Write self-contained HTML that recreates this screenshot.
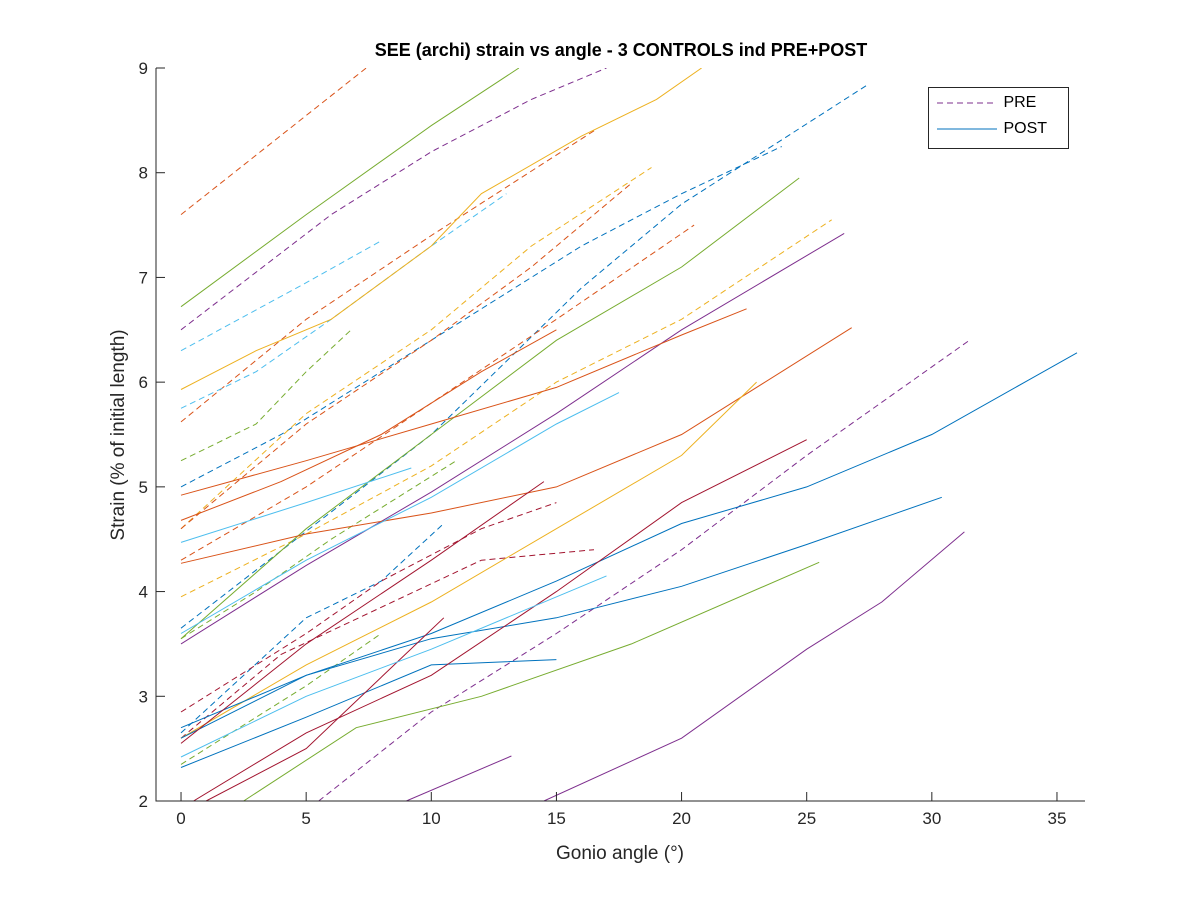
<!DOCTYPE html>
<html><head><meta charset="utf-8"><style>
body{margin:0;background:#fff;width:1200px;height:900px;overflow:hidden;font-family:"Liberation Sans",sans-serif}
</style></head><body>
<svg id="chart" width="1200" height="900" xmlns="http://www.w3.org/2000/svg">
<rect width="1200" height="900" fill="#fff"/>
<defs><clipPath id="clip"><rect x="156" y="68" width="929" height="733"/></clipPath></defs>
<g id="plot" clip-path="url(#clip)"></g>
<g id="axes"></g>
</svg>
<script>
const xTicks=[0,5,10,15,20,25,30,35];
const yTicks=[2,3,4,5,6,7,8,9];
const title="SEE (archi) strain vs angle - 3 CONTROLS ind PRE+POST";
const B='#0072BD',O='#D95319',Y='#EDB120',P='#7E2F8E',G='#77AC30',C='#4DBEEE',R='#A2142F';
// PRE (dashed) series
const preX=[[0,7.4],[0,6,10,14,17],[0,5,8],[0,3,5,6.8],[0,5,10,16.5],[0,3,6,10,13],[0,4,8,12,16,20,24],[0,10,16,20,27.5],[0,5,8,10.5],[0,5,10,14,18.8],[0,5,10,15,20,26],[0,5,10,15,20.5],[0,5,10,14,18],[0,3,6,8,11],[0,5,8,12,15],[0,4,8,12,16.5],[5.5,10,15,20,25,31.5],[0,5,8]];
const preY=[[7.6,9.0],[6.5,7.6,8.2,8.7,9.0],[6.3,6.95,7.35],[5.25,5.6,6.1,6.5],[5.62,6.6,7.4,8.4],[5.75,6.1,6.6,7.3,7.8],[5.0,5.5,6.1,6.7,7.3,7.8,8.25],[3.65,5.5,6.9,7.7,8.85],[2.65,3.75,4.1,4.65],[4.6,5.7,6.5,7.3,8.05],[3.95,4.55,5.2,6.0,6.6,7.55],[4.3,5.0,5.8,6.6,7.5],[4.6,5.6,6.4,7.1,7.9],[3.55,4.0,4.5,4.8,5.25],[2.85,3.6,4.1,4.6,4.85],[2.6,3.4,3.85,4.3,4.4],[2.0,2.85,3.6,4.4,5.3,6.4],[2.35,3.1,3.6]];
const preC=[O,P,C,G,O,C,B,B,B,Y,Y,O,O,G,R,R,P,G];
// POST (solid) series
const postX=[[0,5,10,13.5],[0,3,6,10,12,16,19,20.8],[0,5,10,15,20,24.7],[0,5,10,15,20,26.5],[0,5,10,15,20,22.6],[0,5,10,15,20,26.8],[0,4,8,12,15],[0,5,9.2],[0,5,10,15,17.5],[0,5,10,15,20,23],[0,5,10,15,20,25,30.4],[0,5,10,15,20,25,30,35.8],[0,5,10,15],[2.5,7,12,18,25.5],[0.5,5,10,15,20,25],[0,5,10,14.5],[1,5,10.5],[9,13.2],[14.5,20,25,28,31.3],[0,5,10,17]];
const postY=[[6.72,7.6,8.45,9.0],[5.93,6.3,6.6,7.3,7.8,8.35,8.7,9.0],[3.55,4.6,5.5,6.4,7.1,7.95],[3.5,4.25,4.95,5.7,6.5,7.42],[4.92,5.25,5.6,5.95,6.45,6.7],[4.27,4.55,4.75,5.0,5.5,6.52],[4.68,5.05,5.5,6.1,6.5],[4.47,4.85,5.18],[3.6,4.3,4.9,5.6,5.9],[2.6,3.3,3.9,4.6,5.3,6.0],[2.7,3.2,3.55,3.75,4.05,4.45,4.9],[2.6,3.2,3.6,4.1,4.65,5.0,5.5,6.28],[2.32,2.8,3.3,3.35],[2.0,2.7,3.0,3.5,4.28],[2.0,2.65,3.2,4.0,4.85,5.45],[2.55,3.5,4.3,5.05],[2.0,2.5,3.75],[2.0,2.43],[2.0,2.6,3.45,3.9,4.57],[2.42,3.0,3.45,4.15]];
const postC=[G,Y,G,P,O,O,O,C,C,Y,B,B,B,G,R,R,R,P,P,C];

const NS='http://www.w3.org/2000/svg';
const X0=156,X1=1085,Y0=801,Y1=68,xmin=-1,xmax=36.12,ymin=2,ymax=9;
const sx=v=>X0+(v-xmin)/(xmax-xmin)*(X1-X0);
const sy=v=>Y0-(v-ymin)/(ymax-ymin)*(Y0-Y1);
const plot=document.getElementById('plot'),axes=document.getElementById('axes');
function mk(t,a,p){const e=document.createElementNS(NS,t);for(const k in a)e.setAttribute(k,a[k]);p.appendChild(e);return e;}
function drawSet(xs,ys,cs,dash,kind){
  xs.forEach((xa,i)=>{
    const d=xa.map((v,j)=>(j?'L':'M')+sx(v).toFixed(1)+','+sy(ys[i][j]).toFixed(1)).join('');
    const e=mk('path',{d:d,fill:'none',stroke:cs[i],'stroke-width':1,'stroke-dasharray':dash?'6,4':'none'},plot);
    
    
  });
}
drawSet(preX,preY,preC,true,'pre');
drawSet(postX,postY,postC,false,'post');
mk('path',{d:`M${X0},${Y1}V${Y0}H${X1}`,fill:'none',stroke:'#262626','stroke-width':1},axes);
xTicks.forEach(t=>{const x=sx(t);
  mk('line',{x1:x,x2:x,y1:Y0,y2:Y0-9,stroke:'#262626'},axes);
  const e=mk('text',{x:x,y:Y0+23,'text-anchor':'middle','font-size':17,fill:'#262626'},axes);e.textContent=t;
  
  });
yTicks.forEach(t=>{const y=sy(t);
  mk('line',{x1:X0,x2:X0+9,y1:y,y2:y,stroke:'#262626'},axes);
  const e=mk('text',{x:X0-8,y:y+6,'text-anchor':'end','font-size':17,fill:'#262626'},axes);e.textContent=t;
  
  });
</script>
<div style="position:absolute;left:0;width:1242px;top:40px;text-align:center;font-weight:bold;font-size:18px;color:#000">SEE (archi) strain vs angle - 3 CONTROLS ind PRE+POST</div>
<div style="position:absolute;left:540px;width:160px;top:843px;text-align:center;font-size:19px;color:#262626">Gonio angle (°)</div>
<div style="position:absolute;left:-10px;top:423px;width:260px;text-align:center;font-size:19px;color:#262626;transform:rotate(-90deg);transform-origin:130px 12px;">Strain (% of initial length)</div>
<div style="position:absolute;left:928px;top:87px;width:139px;height:60px;border:1px solid #262626;background:#fff;font-size:16px;color:#000">
  <div style="position:absolute;left:8px;top:6px"><svg width="62" height="12" style="vertical-align:middle"><line x1="0" y1="6" x2="60" y2="6" stroke="#7E2F8E" stroke-dasharray="6,4"/></svg> PRE</div>
  <div style="position:absolute;left:8px;top:32px"><svg width="62" height="12" style="vertical-align:middle"><line x1="0" y1="6" x2="60" y2="6" stroke="#0072BD"/></svg> POST</div>
</div>
</body></html>
